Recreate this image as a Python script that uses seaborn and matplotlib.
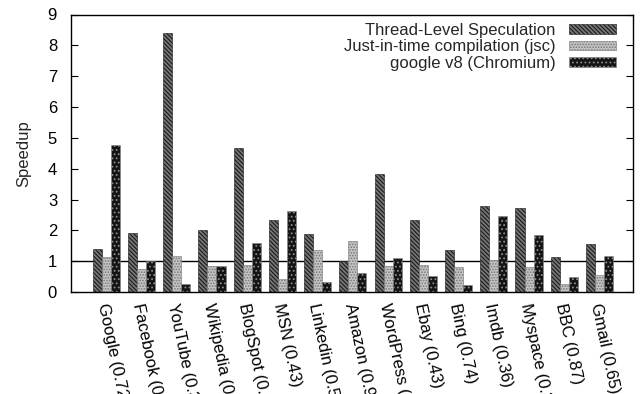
import matplotlib
matplotlib.use("Agg")
import matplotlib.pyplot as plt
import matplotlib.transforms as mtransforms
import seaborn as sns
import pandas as pd
from matplotlib.patches import Patch

sites = ["Google (0.72)", "Facebook (0.62)", "YouTube (0.37)", "Wikipedia (0.58)",
         "BlogSpot (0.31)", "MSN (0.43)", "Linkedin (0.54)", "Amazon (0.91)",
         "WordPress (0.48)", "Ebay (0.43)", "Bing (0.74)", "Imdb (0.36)",
         "Myspace (0.39)", "BBC (0.87)", "Gmail (0.65)"]
tls = [1.40, 1.91, 8.39, 2.02, 4.67, 2.32, 1.88, 1.02, 3.84, 2.34, 1.37, 2.78, 2.73, 1.15, 1.55]
jit = [1.15, 0.76, 1.18, 0.85, 0.88, 0.43, 1.37, 1.67, 0.85, 0.87, 0.80, 1.05, 0.82, 0.27, 0.56]
v8 = [4.76, 1.00, 0.27, 0.84, 1.59, 2.63, 0.33, 0.61, 1.11, 0.53, 0.24, 2.45, 1.85, 0.50, 1.17]
series = ["Thread-Level Speculation", "Just-in-time compilation (jsc)", "google v8 (Chromium)"]

df = pd.DataFrame({
    "site": sites * 3,
    "series": [series[0]] * len(sites) + [series[1]] * len(sites) + [series[2]] * len(sites),
    "speedup": tls + jit + v8,
})

sns.set_style("ticks")
plt.rcParams["font.family"] = ["Liberation Sans", "DejaVu Sans"]
plt.rcParams["hatch.linewidth"] = 0.8

faces = ["#767676", "#c4c4c4", "#141414"]
edges = ["#1a1a1a", "#777777", "#8a8a8a"]
hatches = ["\\\\\\\\\\\\\\\\", "......", "...."]

fig = plt.figure(figsize=(6.41, 3.94), dpi=100)
ax = fig.add_axes([71 / 641, 1 - 292 / 394, (633 - 71) / 641, (292 - 14.5) / 394])

sns.barplot(data=df, x="site", y="speedup", hue="series", hue_order=series,
            palette=faces, width=0.77, saturation=1, errorbar=None,
            legend=False, ax=ax)
for cont, fc, ec, h in zip(ax.containers, faces, edges, hatches):
    for p in cont:
        p.set_hatch(h)
        p.set_edgecolor(ec)
        p.set_linewidth(0.4)
        p.set_zorder(2)

ax.axhline(1, color="black", lw=1.0, zorder=1)
ax.set_xlim(-1.0, 14.95)
ax.set_ylim(0, 9)
ax.set_yticks(range(0, 10))
ax.set_xlabel("")
ax.set_ylabel("Speedup", fontsize=12, labelpad=12)
for s in ax.spines.values():
    s.set_visible(True)
    s.set_linewidth(1.0)
    s.set_color("black")
    s.set_zorder(3)
ax.tick_params(axis="y", direction="in", length=5, right=True, left=True,
               labelsize=12, pad=10, colors="black")
ax.tick_params(axis="x", direction="in", length=0, bottom=True, top=False,
               labelsize=12, pad=8, colors="black")
ax.set_xticks(range(len(sites)))
ax.set_xticklabels(sites, rotation=-78, ha="left", va="center", rotation_mode="anchor")
shift = mtransforms.ScaledTranslation(-0.04, 0, fig.dpi_scale_trans)
for lab in ax.get_xticklabels():
    lab.set_transform(lab.get_transform() + shift)

handles = [Patch(facecolor=f, edgecolor=e, hatch=h, linewidth=0.4)
           for f, e, h in zip(faces, edges, hatches)]
ax.legend(handles, series, loc="upper right", bbox_to_anchor=(0.984, 1.0),
          frameon=False, markerfirst=False, fontsize=12, handlelength=2.8,
          handleheight=0.5, handletextpad=0.8, labelspacing=0.1, borderpad=0)

fig.savefig("out.png", dpi=100)
